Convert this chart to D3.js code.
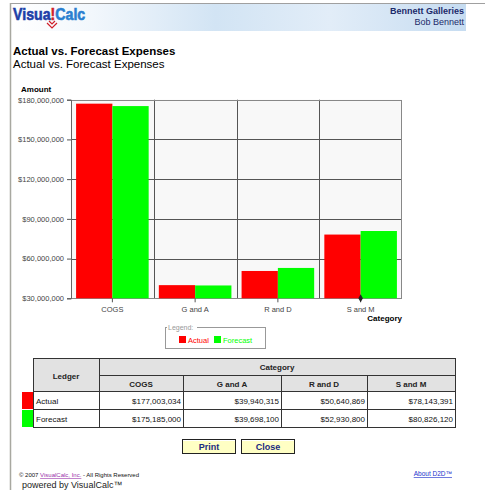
<!DOCTYPE html>
<html>
<head>
<meta charset="utf-8">
<script src="https://cdn.jsdelivr.net/npm/d3@7"></script>
<style>
  html, body { margin: 0; padding: 0; background: #fff; }
  svg { display: block; }
  text { font-family: "Liberation Sans", Arial, sans-serif; }
</style>
</head>
<body>
<svg id="page" width="485" height="490"></svg>
<script>
const categories = ["COGS", "G and A", "R and D", "S and M"];
const seriesNames = ["Actual", "Forecast"];
const actualValues = [177003034, 39940315, 50640869, 78143391];
const forecastValues = [175185000, 39698100, 52930800, 80826120];
const yTicks = [30000000, 60000000, 90000000, 120000000, 150000000, 180000000];
const seriesColors = ["#ff0000", "#00ff00"];

const svg = d3.select("#page");
const defs = svg.append("defs");

// ---------- page frame ----------
const hg = defs.append("linearGradient").attr("id", "hdr").attr("x1", 0).attr("x2", 1);
hg.append("stop").attr("offset", 0).attr("stop-color", "#ffffff");
hg.append("stop").attr("offset", 0.18).attr("stop-color", "#f2f7fc");
hg.append("stop").attr("offset", 0.45).attr("stop-color", "#d2e4f4");
hg.append("stop").attr("offset", 0.7).attr("stop-color", "#e2edf8");
hg.append("stop").attr("offset", 1).attr("stop-color", "#c6dcf1");
svg.append("rect").attr("x", 11).attr("y", 4).attr("width", 455).attr("height", 27).attr("fill", "url(#hdr)");
svg.append("line").attr("x1", 10).attr("x2", 485).attr("y1", 3.5).attr("y2", 3.5).attr("stroke", "#a0a0a0");
svg.append("line").attr("x1", 10.5).attr("x2", 10.5).attr("y1", 3).attr("y2", 490).attr("stroke", "#a8a8a0").attr("stroke-width", 1.5);

// logo
const logo = svg.append("text").attr("transform", "translate(13,20) scale(0.86,1)")
  .attr("font-family", "'Liberation Sans', Arial, sans-serif")
  .attr("font-weight", "bold").attr("font-size", 16.5).attr("stroke-width", 0.6);
logo.append("tspan").attr("fill", "#1e3fa8").attr("stroke", "#1e3fa8").text("Visua");
logo.append("tspan").attr("fill", "#d0202a").attr("stroke", "#d0202a").text("!");
logo.append("tspan").attr("fill", "#2a7fd0").attr("stroke", "#2a7fd0").text("Calc");
svg.append("path").attr("d", "M49,21 l3,3 l3,-3 M47,23 l5,5 l5,-5").attr("fill", "none").attr("stroke", "#d0202a").attr("stroke-width", 1.2);

svg.append("text").attr("x", 464).attr("y", 14).attr("text-anchor", "end")
  .attr("font-size", 9).attr("font-weight", "bold").attr("fill", "#1c2a6a").text("Bennett Galleries");
svg.append("text").attr("x", 464).attr("y", 25).attr("text-anchor", "end")
  .attr("font-size", 9).attr("fill", "#1c2a6a").text("Bob Bennett");

// titles
svg.append("text").attr("x", 13).attr("y", 55).attr("font-size", 11.5).attr("font-weight", "bold").attr("fill", "#000").text("Actual vs. Forecast Expenses");
svg.append("text").attr("x", 13).attr("y", 68).attr("font-size", 11.5).attr("fill", "#000").text("Actual vs. Forecast Expenses");

// ---------- chart ----------
const plot = { left: 71, right: 402, top: 99.7, bottom: 298.3 };
const y = d3.scaleLinear().domain([30000000, 180000000]).range([plot.bottom, plot.top]);
const x0 = d3.scaleBand().domain(categories).range([plot.left, plot.right]).padding(0);
const x1 = d3.scaleBand().domain(seriesNames).range([0, x0.bandwidth()]).paddingInner(0).paddingOuter(0.14);
const fmt = d3.format("$,");

svg.append("rect").attr("x", plot.left).attr("y", plot.top).attr("width", plot.right - plot.left)
  .attr("height", plot.bottom - plot.top).attr("fill", "#f8f8f8");

svg.append("g").selectAll("line").data(yTicks).join("line")
  .attr("x1", plot.left).attr("x2", plot.right)
  .attr("y1", d => Math.round(y(d)) + 0.5).attr("y2", d => Math.round(y(d)) + 0.5)
  .attr("stroke", "#555");
svg.append("g").selectAll("line").data(categories.slice(1)).join("line")
  .attr("x1", d => Math.round(x0(d)) + 0.5).attr("x2", d => Math.round(x0(d)) + 0.5)
  .attr("y1", plot.top).attr("y2", plot.bottom)
  .attr("stroke", "#555");
svg.append("rect").attr("x", plot.left + 0.5).attr("y", Math.round(plot.top) + 0.5)
  .attr("width", plot.right - plot.left - 1).attr("height", Math.round(plot.bottom) - Math.round(plot.top))
  .attr("fill", "none").attr("stroke", "#888");

// bars
const rows = categories.map((c, i) => ({ cat: c, vals: [actualValues[i], forecastValues[i]] }));
const groups = svg.append("g").selectAll("g").data(rows).join("g")
  .attr("transform", d => `translate(${x0(d.cat)},0)`);
groups.selectAll("rect").data(d => d.vals.map((v, j) => ({ v, s: seriesNames[j], c: seriesColors[j] }))).join("rect")
  .attr("x", d => x1(d.s)).attr("width", x1.bandwidth())
  .attr("y", d => y(d.v)).attr("height", d => y(30000000) - y(d.v))
  .attr("fill", d => d.c);

// y axis
const yAxis = svg.append("g").attr("transform", `translate(${plot.left},0)`)
  .call(d3.axisLeft(y).tickValues(yTicks).tickFormat(fmt).tickSize(4).tickPadding(3));
yAxis.select(".domain").attr("stroke", "#666");
yAxis.selectAll(".tick line").attr("stroke", "#555");
yAxis.selectAll(".tick text").attr("font-family", "'Liberation Sans', Arial, sans-serif").attr("font-size", 7.5).attr("fill", "#444");

// x axis
const xAxis = svg.append("g").attr("transform", `translate(0,${plot.bottom})`)
  .call(d3.axisBottom(x0).tickSize(4).tickPadding(4));
xAxis.select(".domain").remove();
xAxis.selectAll(".tick line").attr("stroke", "#555");
xAxis.selectAll(".tick text").attr("font-family", "'Liberation Sans', Arial, sans-serif").attr("font-size", 7.5).attr("fill", "#444");

svg.append("text").attr("x", 21).attr("y", 92).attr("font-size", 8).attr("font-weight", "bold").text("Amount");
svg.append("text").attr("x", 402).attr("y", 321).attr("text-anchor", "end").attr("font-size", 8).attr("font-weight", "bold").text("Category");

svg.append("path").attr("d", d3.symbol(d3.symbolDiamond, 18)())
  .attr("transform", `translate(${x0("S and M") + x0.bandwidth() / 2},${plot.bottom})`).attr("fill", "#222");

// legend
const lg = svg.append("g");
lg.append("rect").attr("x", 165.5).attr("y", 327.5).attr("width", 100).attr("height", 21)
  .attr("fill", "none").attr("stroke", "#999");
lg.append("rect").attr("x", 167).attr("y", 323).attr("width", 30).attr("height", 8).attr("fill", "#fff");
lg.append("text").attr("x", 168).attr("y", 330).attr("font-size", 7).attr("fill", "#999").text("Legend:");
const legX = [179, 214];
seriesNames.forEach((s, i) => {
  lg.append("rect").attr("x", legX[i]).attr("y", 336).attr("width", 7).attr("height", 7).attr("fill", seriesColors[i]);
  lg.append("text").attr("x", legX[i] + 9).attr("y", 343).attr("font-size", 7.5)
    .attr("fill", seriesColors[i]).text(s);
});

// ---------- table ----------
const colX = [33, 99, 183, 281, 367, 455];
const rowY = [358, 375, 391, 409, 427];
const tbl = svg.append("g");
const hdrFill = "#e2e2e2";
tbl.append("rect").attr("x", colX[0]).attr("y", rowY[0]).attr("width", colX[1] - colX[0]).attr("height", rowY[2] - rowY[0]).attr("fill", hdrFill);
tbl.append("rect").attr("x", colX[1]).attr("y", rowY[0]).attr("width", colX[5] - colX[1]).attr("height", rowY[1] - rowY[0]).attr("fill", hdrFill);
categories.forEach((c, i) => {
  tbl.append("rect").attr("x", colX[i + 1]).attr("y", rowY[1]).attr("width", colX[i + 2] - colX[i + 1]).attr("height", rowY[2] - rowY[1]).attr("fill", hdrFill);
});
const lineC = "#333";
tbl.append("rect").attr("x", colX[0] + 0.5).attr("y", rowY[0] + 0.5).attr("width", colX[5] - colX[0]).attr("height", rowY[4] - rowY[0])
  .attr("fill", "none").attr("stroke", lineC);
tbl.append("line").attr("x1", colX[1] + 0.5).attr("x2", colX[5]).attr("y1", rowY[1] + 0.5).attr("y2", rowY[1] + 0.5).attr("stroke", lineC);
[2, 3].forEach(r => tbl.append("line").attr("x1", colX[0]).attr("x2", colX[5]).attr("y1", rowY[r] + 0.5).attr("y2", rowY[r] + 0.5).attr("stroke", lineC));
tbl.append("line").attr("x1", colX[1] + 0.5).attr("x2", colX[1] + 0.5).attr("y1", rowY[0]).attr("y2", rowY[4]).attr("stroke", lineC);
[2, 3, 4].forEach(c => tbl.append("line").attr("x1", colX[c] + 0.5).attr("x2", colX[c] + 0.5).attr("y1", rowY[1]).attr("y2", rowY[4]).attr("stroke", lineC));

tbl.append("text").attr("x", (colX[0] + colX[1]) / 2).attr("y", rowY[1] + 3.5).attr("text-anchor", "middle")
  .attr("font-size", 8).attr("font-weight", "bold").attr("fill", "#222").text("Ledger");
tbl.append("text").attr("x", (colX[1] + colX[5]) / 2).attr("y", rowY[0] + 11.5).attr("text-anchor", "middle")
  .attr("font-size", 8).attr("font-weight", "bold").attr("fill", "#222").text("Category");
categories.forEach((c, i) => {
  tbl.append("text").attr("x", (colX[i + 1] + colX[i + 2]) / 2).attr("y", rowY[1] + 11.5).attr("text-anchor", "middle")
    .attr("font-size", 8).attr("font-weight", "bold").attr("fill", "#222").text(c);
});
const tableVals = [actualValues, forecastValues];
seriesNames.forEach((s, r) => {
  tbl.append("rect").attr("x", 22).attr("y", rowY[r + 2] + 1).attr("width", 11).attr("height", rowY[r + 3] - rowY[r + 2] - 1).attr("fill", seriesColors[r]);
  tbl.append("text").attr("x", colX[0] + 3).attr("y", rowY[r + 2] + 12.5).attr("font-size", 8).attr("fill", "#111").text(s);
  tableVals[r].forEach((v, i) => {
    tbl.append("text").attr("x", colX[i + 2] - 2).attr("y", rowY[r + 2] + 12.5).attr("text-anchor", "end")
      .attr("font-size", 8).attr("fill", "#111").text(fmt(v));
  });
});

// ---------- buttons ----------
[["Print", 182], ["Close", 241]].forEach(([label, bx]) => {
  const b = svg.append("g");
  b.append("rect").attr("x", bx + 0.5).attr("y", 439.5).attr("width", 53).attr("height", 14).attr("fill", "#ffffc4").attr("stroke", "#222");
  b.append("line").attr("x1", bx + 1).attr("x2", bx + 53).attr("y1", 440.5).attr("y2", 440.5).attr("stroke", "#fff");
  b.append("text").attr("x", bx + 27).attr("y", 450).attr("text-anchor", "middle")
    .attr("font-size", 9).attr("font-weight", "bold").attr("fill", "#1a2a80").text(label);
});

// ---------- footer ----------
const ft = svg.append("text").attr("x", 19).attr("y", 477).attr("font-size", 6).attr("fill", "#111");
ft.append("tspan").text("© 2007 ");
ft.append("tspan").attr("fill", "#9933aa").attr("text-decoration", "underline").text("VisualCalc, Inc.");
ft.append("tspan").text(" - All Rights Reserved");
svg.append("text").attr("x", 22).attr("y", 488).attr("font-size", 9).attr("fill", "#222").text("powered by VisualCalc™");
svg.append("text").attr("x", 452).attr("y", 476).attr("text-anchor", "end").attr("font-size", 6.5)
  .attr("fill", "#2233cc").attr("text-decoration", "underline").text("About D2D™");
</script>
</body>
</html>
